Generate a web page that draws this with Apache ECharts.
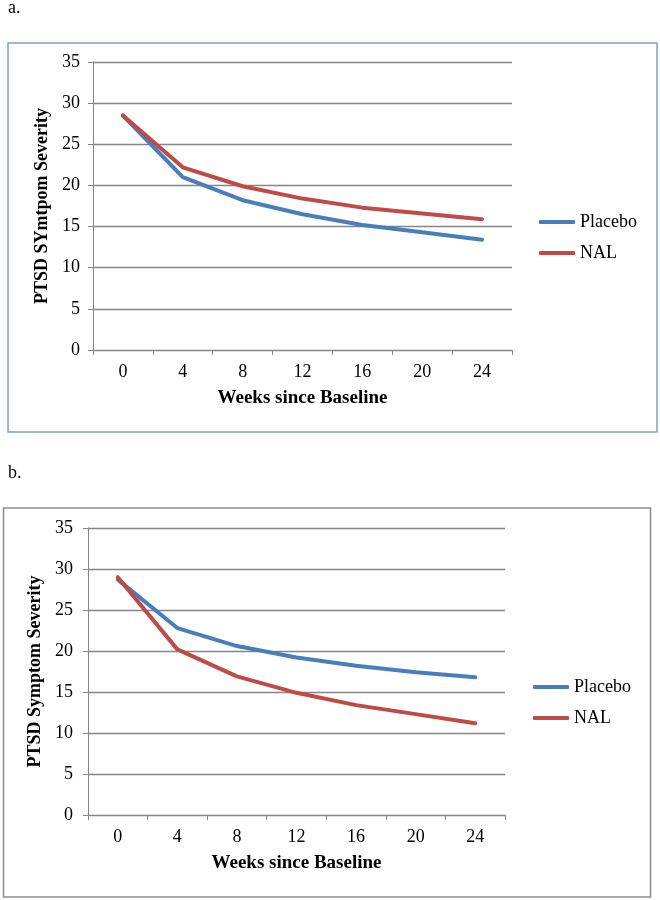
<!DOCTYPE html>
<html>
<head>
<meta charset="utf-8">
<script src="https://cdn.jsdelivr.net/npm/echarts@6/dist/echarts.min.js"></script>
<style>
  html, body { margin: 0; padding: 0; background: #fff; }
  #chart { width: 660px; height: 900px; }
</style>
</head>
<body>
<div id="chart"></div>
<script>
// weeks since baseline (x axis categories)
const weeks = ['0', '4', '8', '12', '16', '20', '24']

// panel a
const placeboA = [28.5, 21.0, 18.2, 16.5, 15.2, 14.3, 13.4]
const nalA = [28.5, 22.2, 19.9, 18.4, 17.3, 16.6, 15.9]

// panel b
const placeboB = [28.7, 22.8, 20.6, 19.2, 18.2, 17.4, 16.8]
const nalB = [29.0, 20.2, 16.9, 14.9, 13.4, 12.3, 11.2]

const seriesNames = ['Placebo', 'NAL']
const blue = '#4a7ebb'
const red = '#be4b48'
const grey = '#868686'
const serif = '"Liberation Serif", "DejaVu Serif", serif'

function xAxisFor(gridIndex) {
  return {
    type: 'category',
    gridIndex,
    data: weeks,
    boundaryGap: true,
    name: 'Weeks since Baseline',
    nameLocation: 'middle',
    nameGap: 39,
    nameTextStyle: { fontFamily: serif, fontSize: 19, fontWeight: 'bold', color: '#000' },
    axisLine: { lineStyle: { color: grey, width: 1 } },
    axisTick: { show: true, length: 5, lineStyle: { color: grey } },
    axisLabel: { margin: 13, fontFamily: serif, fontSize: 18, color: '#000' },
    splitLine: { show: false }
  }
}

function yAxisFor(gridIndex, title, margin, gap) {
  return {
    type: 'value',
    gridIndex,
    min: 0,
    max: 35,
    interval: 5,
    name: title,
    nameLocation: 'middle',
    nameGap: gap,
    nameTextStyle: { fontFamily: serif, fontSize: 18, fontWeight: 'bold', color: '#000' },
    axisLine: { show: true, lineStyle: { color: grey, width: 1 } },
    axisTick: { show: true, length: 5, lineStyle: { color: grey } },
    axisLabel: { margin, fontFamily: serif, fontSize: 18, color: '#000' },
    splitLine: { show: true, lineStyle: { color: grey, width: 1.3 } }
  }
}

function lineSeries(name, data, color, idx) {
  return {
    name,
    type: 'line',
    xAxisIndex: idx,
    yAxisIndex: idx,
    data,
    showSymbol: false,
    symbol: 'none',
    lineStyle: { color, width: 4, cap: 'round', join: 'round' },
    itemStyle: { color },
    z: 3
  }
}

function legendFor(left, top) {
  return {
    orient: 'vertical',
    left,
    top,
    padding: 0,
    data: seriesNames,
    icon: 'roundRect',
    itemWidth: 36,
    itemHeight: 4,
    itemGap: 11,
    textStyle: { fontFamily: serif, fontSize: 18, color: '#000', lineHeight: 20 },
    selectedMode: false
  }
}

const chart = echarts.init(document.getElementById('chart'))

const option = {
  animation: false,
  backgroundColor: '#fff',
  graphic: [
    { type: 'text', left: 8, top: -1, style: { text: 'a.', font: '18px ' + serif, fill: '#000' } },
    { type: 'rect', shape: { x: 8, y: 43, width: 649, height: 389 }, style: { fill: 'none', stroke: '#7ba0cd', lineWidth: 1.5 } },
    { type: 'text', left: 8, top: 464, style: { text: 'b.', font: '18px ' + serif, fill: '#000' } },
    { type: 'rect', shape: { x: 3.5, y: 508, width: 647, height: 389 }, style: { fill: 'none', stroke: '#8c8c8c', lineWidth: 1.5 } }
  ],
  legend: [legendFor(539, 212), legendFor(533, 677)],
  grid: [
    { left: 93, top: 62, width: 419, height: 288 },
    { left: 88, top: 528, width: 417, height: 287 }
  ],
  xAxis: [xAxisFor(0), xAxisFor(1)],
  yAxis: [
    yAxisFor(0, 'PTSD SYmtpom Severity', 13, 42),
    yAxisFor(1, 'PTSD Symptom Severity', 15, 41)
  ],
  series: [
    lineSeries('Placebo', placeboA, blue, 0),
    lineSeries('NAL', nalA, red, 0),
    lineSeries('Placebo', placeboB, blue, 1),
    lineSeries('NAL', nalB, red, 1)
  ]
}

chart.setOption(option)
window.addEventListener('resize', () => chart.resize())
</script>
</body>
</html>
